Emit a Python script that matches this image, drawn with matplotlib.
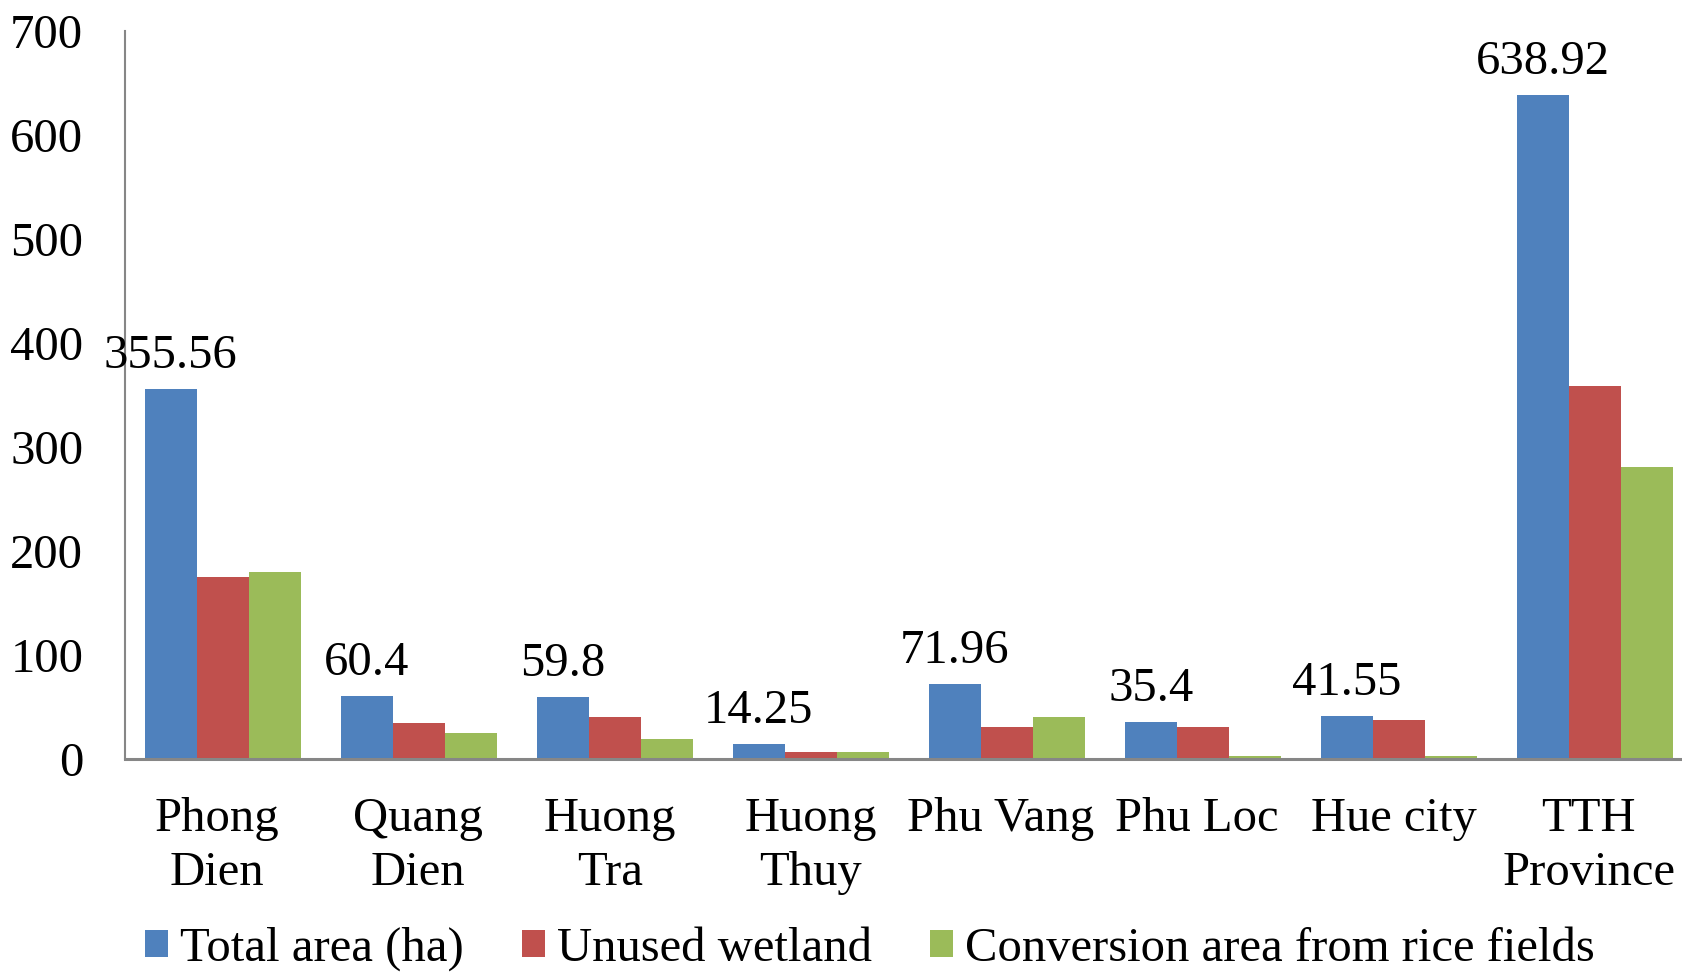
import matplotlib
matplotlib.use("Agg")
import matplotlib.pyplot as plt
import matplotlib.transforms as mtransforms
import numpy as np
from matplotlib.patches import Patch

# Wetland areas by district (ha)
districts = ["Phong\nDien", "Quang\nDien", "Huong\nTra", "Huong\nThuy",
             "Phu Vang", "Phu Loc", "Hue city", "TTH\nProvince"]
total_area = [355.56, 60.4, 59.8, 14.25, 71.96, 35.4, 41.55, 638.92]
unused_wetland = [175.3, 34.8, 40.0, 7.0, 31.0, 31.0, 37.3, 358.5]
rice_conversion = [180.2, 25.2, 19.0, 6.5, 40.3, 3.3, 3.3, 280.4]
total_labels = ["355.56", "60.4", "59.8", "14.25", "71.96", "35.4", "41.55", "638.92"]

series_names = ["Total area (ha)", "Unused wetland", "Conversion area from rice fields"]
colors = ["#4F81BD", "#C0504D", "#9BBB59"]
yticks = [0, 100, 200, 300, 400, 500, 600, 700]

plt.rcParams["font.family"] = ["Liberation Serif", "DejaVu Serif"]
FS = 35

W, H = 1682, 972
fig = plt.figure(figsize=(W / 100, H / 100), dpi=100)
ax = fig.add_axes([125 / W, 1 - 759 / H, 1568 / W, (759 - 31) / H])

x = np.arange(len(districts))
bw = 0.8 / 3
series = [total_area, unused_wetland, rice_conversion]
bars = []
for i, (vals, col) in enumerate(zip(series, colors)):
    b = ax.bar(x + (i - 1) * bw, vals, width=bw, color=col, linewidth=0, zorder=2)
    bars.append(b)

# Value labels over the total-area bars
for rect, lab in zip(bars[0], total_labels):
    ax.annotate(lab, (rect.get_x() + rect.get_width() / 2, rect.get_height()),
                xytext=(0, 15), textcoords="offset points",
                ha="center", va="baseline", fontsize=FS, color="black")

ax.set_xlim(-0.5, len(districts) - 0.5)
ax.set_ylim(0, 700)
ax.set_yticks(yticks)
ax.set_yticklabels([str(v) for v in yticks])
ax.set_xticks(x)
ax.set_xticklabels(districts, linespacing=1.3)
ax.tick_params(axis="y", length=0, pad=30, labelsize=FS)
ax.tick_params(axis="x", length=0, pad=27, labelsize=FS)

# small horizontal nudges of the category labels (pixels)
label_nudge = [-6, -1, -5, 0, -6, -6, -5, -6]
for lbl, dx in zip(ax.get_xticklabels(), label_nudge):
    shift = mtransforms.ScaledTranslation(dx * 1.07 / 100, 0, fig.dpi_scale_trans)
    lbl.set_transform(lbl.get_transform() + shift)

for s in ["top", "right"]:
    ax.spines[s].set_visible(False)
ax.spines["left"].set_color("#868686")
ax.spines["left"].set_linewidth(1.5)
ax.spines["bottom"].set_color("#868686")
ax.spines["bottom"].set_linewidth(2.2)
ax.spines["bottom"].set_zorder(3)

handles = [Patch(facecolor=c, edgecolor="none") for c in colors]
fig.legend(handles, series_names, loc="center", ncol=3,
           bbox_to_anchor=(870 / W, 1 - 949 / H), frameon=False,
           fontsize=FS, handlelength=0.47, handleheight=0.47,
           handletextpad=0.25, columnspacing=1.2, borderpad=0, borderaxespad=0)

fig.savefig("out.png", dpi=100)
